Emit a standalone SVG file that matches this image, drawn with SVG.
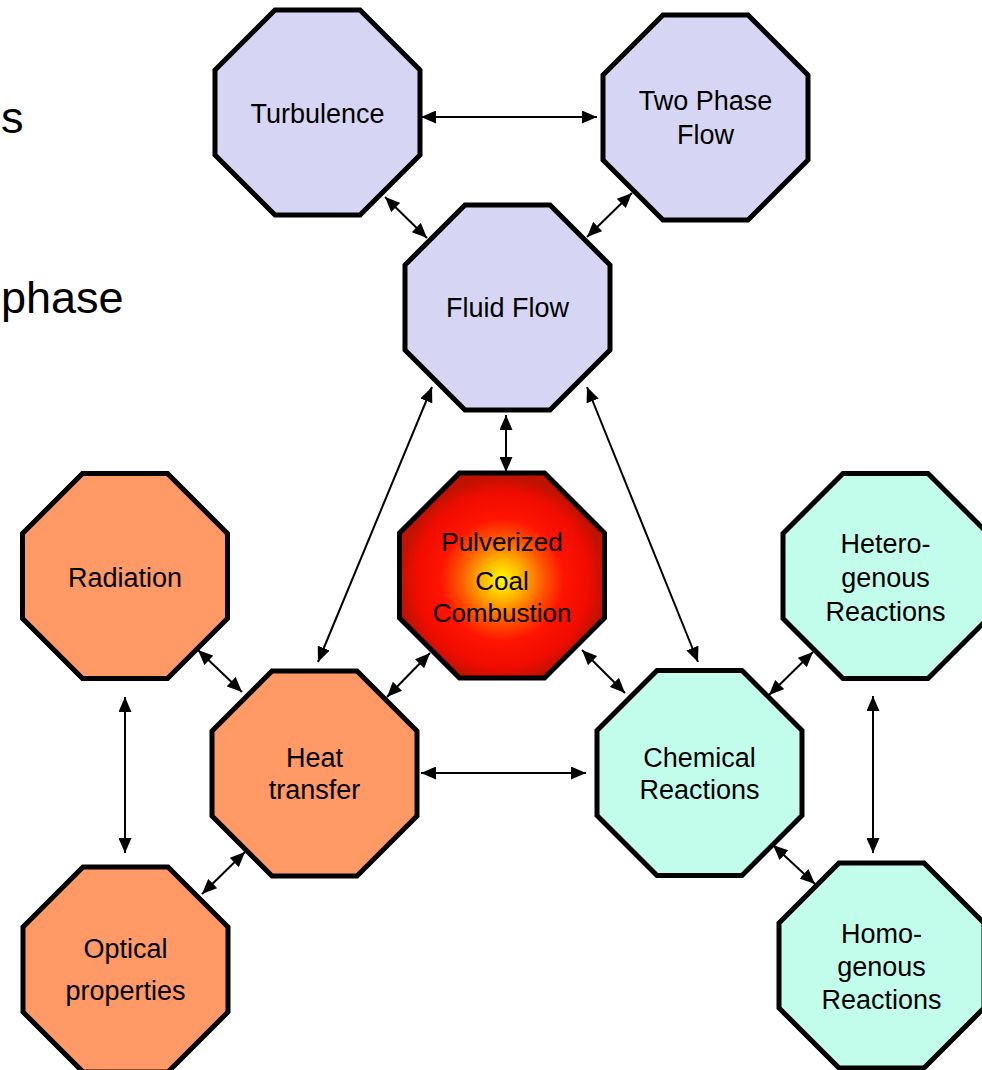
<svg xmlns="http://www.w3.org/2000/svg" xmlns:xlink="http://www.w3.org/1999/xlink" width="982" height="1070" viewBox="0 0 982 1070">
<style>
.oct{stroke:#000;stroke-width:5;stroke-linejoin:miter}
.blue{fill:#D6D6F4}
.orange{fill:#FF9966}
.cyan{fill:#C2FDEC}
.lbl{font-family:"Liberation Sans",Arial,sans-serif;font-size:27px;fill:#000;text-anchor:middle}
.ctr{font-size:26px}
.big{font-family:"Liberation Sans",Arial,sans-serif;font-size:45px;fill:#000;text-anchor:start}
.conn line{stroke:#000;stroke-width:2;marker-start:url(#ah);marker-end:url(#ah)}
</style>
<defs>
<polygon id="octShape" points="-42.5,-102.5 42.5,-102.5 102.5,-42.5 102.5,42.5 42.5,102.5 -42.5,102.5 -102.5,42.5 -102.5,-42.5"/>
<marker id="ah" viewBox="0 0 15 13" refX="15" refY="6.5" markerWidth="15" markerHeight="13" markerUnits="userSpaceOnUse" orient="auto-start-reverse">
<path d="M0,0 L15,6.5 L0,13 z" fill="#000"/>
</marker>
<radialGradient id="fire" cx="0.5" cy="0.52" r="0.5">
<stop offset="0" stop-color="#FFFF00"/>
<stop offset="0.2" stop-color="#FFB400"/>
<stop offset="0.4" stop-color="#FF5A00"/>
<stop offset="0.6" stop-color="#FF1400"/>
<stop offset="0.85" stop-color="#F00C00"/>
<stop offset="1" stop-color="#C01200"/>
</radialGradient>
</defs>
<rect width="982" height="1070" fill="#fff"/>
<text class="big" x="1" y="133">s</text>
<text class="big" x="1" y="313">phase</text>
<g id="connectors" class="conn">
<line x1="421" y1="117" x2="597" y2="117"/>
<line x1="385" y1="197" x2="427" y2="238"/>
<line x1="632" y1="193" x2="587" y2="237"/>
<line x1="506" y1="415" x2="506" y2="472"/>
<line x1="432" y1="387" x2="318" y2="662"/>
<line x1="587" y1="387" x2="698" y2="662"/>
<line x1="198" y1="650" x2="242" y2="692"/>
<line x1="430" y1="653" x2="387" y2="697"/>
<line x1="582" y1="650" x2="625" y2="693"/>
<line x1="813" y1="652" x2="769" y2="695"/>
<line x1="125" y1="697" x2="125" y2="853"/>
<line x1="245" y1="852" x2="202" y2="894"/>
<line x1="421" y1="773" x2="586" y2="773"/>
<line x1="873" y1="696" x2="873" y2="853"/>
<line x1="773" y1="845" x2="815" y2="884"/>
</g>
<g id="turbulence">
<use xlink:href="#octShape" class="oct blue" transform="translate(317.5,112.5)"/>
<text class="lbl" x="317.5" y="123">Turbulence</text>
</g>
<g id="twophase">
<use xlink:href="#octShape" class="oct blue" transform="translate(705.5,117.5)"/>
<text class="lbl" x="705.5" y="110">Two Phase</text>
<text class="lbl" x="705.5" y="144">Flow</text>
</g>
<g id="fluidflow">
<use xlink:href="#octShape" class="oct blue" transform="translate(507.5,307.5)"/>
<text class="lbl" x="507.5" y="317">Fluid Flow</text>
</g>
<g id="pulverized">
<use xlink:href="#octShape" class="oct" fill="url(#fire)" transform="translate(502,575.5)"/>
<text class="lbl ctr" x="502" y="551">Pulverized</text>
<text class="lbl ctr" x="502" y="590">Coal</text>
<text class="lbl ctr" x="502" y="622">Combustion</text>
</g>
<g id="radiation">
<use xlink:href="#octShape" class="oct orange" transform="translate(125,576)"/>
<text class="lbl" x="125" y="587">Radiation</text>
</g>
<g id="heattransfer">
<use xlink:href="#octShape" class="oct orange" transform="translate(314.5,773.5)"/>
<text class="lbl" x="314.5" y="767">Heat</text>
<text class="lbl" x="314.5" y="799">transfer</text>
</g>
<g id="chemical">
<use xlink:href="#octShape" class="oct cyan" transform="translate(699.5,773)"/>
<text class="lbl" x="699.5" y="767">Chemical</text>
<text class="lbl" x="699.5" y="799">Reactions</text>
</g>
<g id="hetero">
<use xlink:href="#octShape" class="oct cyan" transform="translate(885.5,576)"/>
<text class="lbl" x="885.5" y="553">Hetero-</text>
<text class="lbl" x="885.5" y="587">genous</text>
<text class="lbl" x="885.5" y="621">Reactions</text>
</g>
<g id="homo">
<use xlink:href="#octShape" class="oct cyan" transform="translate(881.5,965.5)"/>
<text class="lbl" x="881.5" y="943">Homo-</text>
<text class="lbl" x="881.5" y="976">genous</text>
<text class="lbl" x="881.5" y="1009">Reactions</text>
</g>
<g id="optical">
<use xlink:href="#octShape" class="oct orange" transform="translate(125.5,969.5)"/>
<text class="lbl" x="125.5" y="958">Optical</text>
<text class="lbl" x="125.5" y="1000">properties</text>
</g>
</svg>
